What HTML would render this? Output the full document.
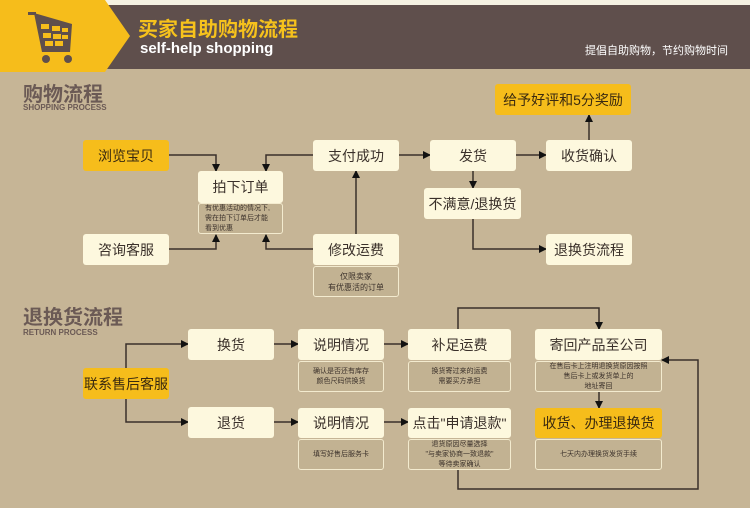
<!DOCTYPE html>
<html><head><meta charset="utf-8"><style>
*{margin:0;padding:0;box-sizing:border-box}
body{width:750px;height:508px;background:#c6b596;position:relative;overflow:hidden;font-family:"Liberation Sans","Noto Sans CJK SC",sans-serif}
.b{position:absolute;background:#fdf8de;border-radius:3px;color:#3a302a;font-size:14px;display:flex;align-items:center;justify-content:center;white-space:nowrap}
.y{background:#f6bd1b;color:#3a2a10}
.s{position:absolute;background:#c2b292;border:1.5px solid #f3ebcf;border-radius:3px;color:#3d332c;font-size:7px;line-height:10px;text-align:center;display:flex;align-items:center;justify-content:center}
.h{position:absolute;color:#6b5a55;font-weight:bold;line-height:1}
.t{position:absolute;line-height:1}
</style></head><body>
<div style="position:absolute;left:0;top:0;width:750px;height:6px;background:#f4f1e2"></div>
<div style="position:absolute;left:100px;top:5px;width:650px;height:64px;background:#5f4f4c"></div>
<svg style="position:absolute;left:0;top:0" width="140" height="74"><polygon points="0,0 105,0 130,36 105,72 0,72" fill="#f6bd1b"/>
<g fill="#5f4f4c"><rect x="28" y="12" width="8" height="3"/><polygon points="34,13 72,24 70,52 42,52"/><circle cx="46" cy="59" r="4"/><circle cx="68" cy="59" r="4"/></g>
<g fill="#f6bd1b"><rect x="41" y="24" width="8" height="5"/><rect x="52" y="26" width="8" height="5"/><rect x="62" y="28" width="6" height="4"/><rect x="43" y="33" width="8" height="5"/><rect x="53" y="34" width="8" height="5"/><rect x="62" y="35" width="6" height="4"/><rect x="45" y="41" width="8" height="5"/><rect x="55" y="41" width="8" height="5"/></g></svg>
<div class="t" style="left:138px;top:20px;color:#f6c21c;font-size:20px;font-weight:bold">买家自助购物流程</div>
<div class="t" style="left:140px;top:41px;color:#fff;font-size:15px;font-weight:bold">self-help shopping</div>
<div class="t" style="left:585px;top:46px;color:#fff;font-size:11px">提倡自助购物，节约购物时间</div>

<div class="h" style="left:23px;top:85px;font-size:20px">购物流程</div>
<div class="h" style="left:23px;top:104px;font-size:8px">SHOPPING PROCESS</div>
<div class="h" style="left:23px;top:308px;font-size:20px">退换货流程</div>
<div class="h" style="left:23px;top:329px;font-size:8px">RETURN PROCESS</div>

<svg style="position:absolute;left:0;top:0" width="750" height="508">
<defs><marker id="a" markerWidth="8" markerHeight="8" refX="7" refY="4" orient="auto" markerUnits="userSpaceOnUse"><path d="M0,0 L8,4 L0,8z" fill="#111"/></marker></defs>
<g stroke="#3a302a" stroke-width="1.5" fill="none" marker-end="url(#a)">
<path d="M169,155 H216 V171"/><path d="M313,155 H266 V171"/>
<path d="M169,249 H216 V235"/><path d="M313,249 H266 V235"/>
<path d="M356,234 V171"/><path d="M399,155 H430"/><path d="M516,155 H546"/>
<path d="M589,140 V115"/><path d="M473,171 V188"/><path d="M473,219 V249 H546"/>
<path d="M126,368 V344 H188"/><path d="M126,399 V422 H188"/>
<path d="M274,344 H298"/><path d="M274,422 H298"/><path d="M384,344 H408"/><path d="M384,422 H408"/>
<path d="M458,329 V308 H599 V329"/><path d="M599,392 V408"/>
<path d="M458,470 V489 H698 V360 H662"/>
</g></svg>

<div class="b y" style="left:83px;top:140px;width:86px;height:31px">浏览宝贝</div>
<div class="b" style="left:198px;top:171px;width:85px;height:32px">拍下订单</div>
<div class="s" style="left:198px;top:203px;width:85px;height:31px;text-align:left;justify-content:flex-start;padding-left:6px">有优惠活动的情况下,<br>需在拍下订单后才能<br>看到优惠</div>
<div class="b" style="left:83px;top:234px;width:86px;height:31px">咨询客服</div>
<div class="b" style="left:313px;top:140px;width:86px;height:31px">支付成功</div>
<div class="b" style="left:313px;top:234px;width:86px;height:31px">修改运费</div>
<div class="s" style="left:313px;top:266px;width:86px;height:31px;font-size:8px;line-height:11px">仅限卖家<br>有优惠活的订单</div>
<div class="b" style="left:430px;top:140px;width:86px;height:31px">发货</div>
<div class="b" style="left:546px;top:140px;width:86px;height:31px">收货确认</div>
<div class="b y" style="left:495px;top:84px;width:136px;height:31px">给予好评和5分奖励</div>
<div class="b" style="left:424px;top:188px;width:97px;height:31px">不满意/退换货</div>
<div class="b" style="left:546px;top:234px;width:86px;height:31px">退换货流程</div>

<div class="b y" style="left:83px;top:368px;width:86px;height:31px">联系售后客服</div>
<div class="b" style="left:188px;top:329px;width:86px;height:31px">换货</div>
<div class="b" style="left:188px;top:407px;width:86px;height:31px">退货</div>
<div class="b" style="left:298px;top:329px;width:86px;height:31px">说明情况</div>
<div class="s" style="left:298px;top:361px;width:86px;height:31px">确认是否还有库存<br>颜色尺码供换货</div>
<div class="b" style="left:408px;top:329px;width:103px;height:31px">补足运费</div>
<div class="s" style="left:408px;top:361px;width:103px;height:31px">换货寄过来的运费<br>需要买方承担</div>
<div class="b" style="left:535px;top:329px;width:127px;height:31px">寄回产品至公司</div>
<div class="s" style="left:535px;top:361px;width:127px;height:31px">在售后卡上注明退换货原因按照<br>售后卡上或发货单上的<br>地址寄回</div>
<div class="b" style="left:298px;top:408px;width:86px;height:30px">说明情况</div>
<div class="s" style="left:298px;top:439px;width:86px;height:31px">填写好售后服务卡</div>
<div class="b" style="left:408px;top:408px;width:103px;height:30px">点击"申请退款"</div>
<div class="s" style="left:408px;top:439px;width:103px;height:31px">退货原因尽量选择<br>"与卖家协商一致退款"<br>等待卖家确认</div>
<div class="b y" style="left:535px;top:408px;width:127px;height:30px">收货、办理退换货</div>
<div class="s" style="left:535px;top:439px;width:127px;height:31px">七天内办理换货发货手续</div>
</body></html>
